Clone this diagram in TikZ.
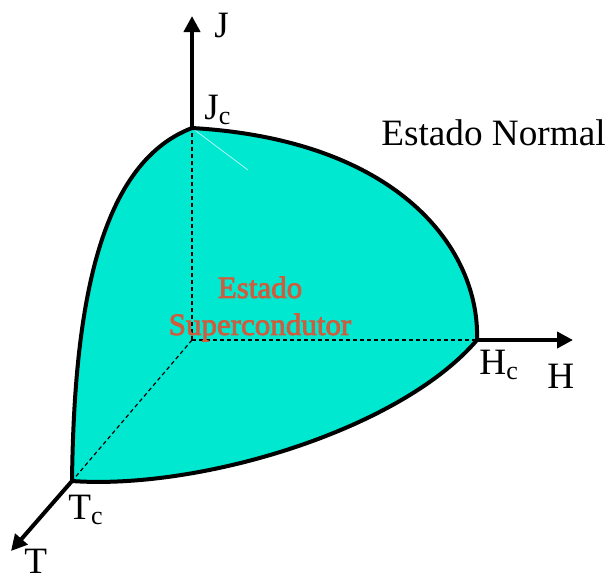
\documentclass[tikz,border=0pt]{standalone}
\usepackage{fontspec}
\setmainfont{Liberation Serif}
\newfontface\supfont{Liberation Serif}[FakeBold=2.5]
\usetikzlibrary{arrows.meta}
\definecolor{supfill}{RGB}{0,232,208}
\definecolor{suptext}{RGB}{208,92,62}
\tikzset{
  axis/.style={line width=2pt,-{Triangle[length=8pt,width=8pt]}},
  border/.style={line width=2pt,line join=round},
  hidden/.style={line width=0.6pt,dash pattern=on 2pt off 1.5pt},
  lbl/.style={inner sep=0pt,font=\fontsize{18.6}{22}\selectfont},
}
\begin{document}
\begin{tikzpicture}[x=0.5pt,y=-0.5pt]
\useasboundingbox (0,0) rectangle (608,575);
\coordinate (O) at (192,340);
\coordinate (Jc) at (192,128);
\coordinate (Hc) at (477,340);
\coordinate (Tc) at (72,481);
\coordinate (Jtip) at (192,16);
\coordinate (Htip) at (573,340);
\coordinate (Ttip) at (11,551);
% surface
\fill[supfill] (Tc) .. controls (74,320) and (95,165) .. (Jc)
  .. controls (400,140) and (480,250) .. (Hc)
  .. controls (400,430) and (200,490) .. (Tc) -- cycle;
% hidden axes
\draw[hidden] (O) -- (Jc);
\draw[hidden] (O) -- (Hc);
\draw[hidden] (O) -- (Tc);
\draw[white!70!supfill,line width=0.4pt] (Jc) -- (248,170);
% axes
\draw[axis] (Jc) -- (Jtip);
\draw[axis] (Hc) -- (Htip);
\draw[axis] (Tc) -- (Ttip);
% border
\draw[border] (Tc) .. controls (74,320) and (95,165) .. (Jc)
  .. controls (400,140) and (480,250) .. (Hc)
  .. controls (400,430) and (200,490) .. (Tc);
% labels
\node[lbl,anchor=base west] (lJ) at (214,37) {J};
\node[lbl,anchor=base west] (lJc) at (204,119) {J\textsubscript{c}};
\node[lbl,anchor=base east] (lN) at (606,145) {Estado Normal};
\node[lbl,anchor=base west] (lH) at (547,388) {H};
\node[lbl,anchor=base west] (lHc) at (479,374) {H\textsubscript{c}};
\node[lbl,anchor=base west] (lTc) at (68,519) {T\textsubscript{c}};
\node[lbl,anchor=base west] (lT) at (24,573) {T};
\node[inner sep=0pt,align=center,text=suptext,font=\supfont\fontsize{15.5}{18.5}\selectfont] (lS) at (260,309) {Estado\\Supercondutor};
\end{tikzpicture}
\end{document}
